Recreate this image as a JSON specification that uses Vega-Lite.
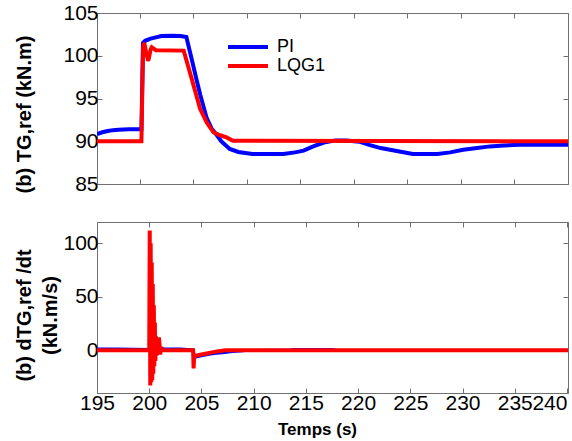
{
  "$schema": "https://vega.github.io/schema/vega-lite/v6.json",
  "padding": {"left": 13, "top": 1, "right": 4, "bottom": 2},
  "bounds": "flush",
  "spacing": 38,
  "background": "white",
  "config": {
    "font": "Liberation Sans",
    "view": {"stroke": "#707070", "strokeWidth": 1},
    "axis": {
      "domainColor": "#707070",
      "tickColor": "#707070",
      "labelColor": "#000000",
      "labelFont": "Liberation Sans",
      "labelFontSize": 21,
      "labelOverlap": false,
      "labelFlush": false,
      "tickSize": -5,
      "labelPadding": 4,
      "grid": false,
      "titleFont": "Liberation Sans",
      "titleFontWeight": "bold",
      "titleColor": "#000000"
    }
  },
  "datasets": {
    "top": [
      {"series": "PI", "t": 196, "v": 90.85},
      {"series": "PI", "t": 196.5, "v": 91.05},
      {"series": "PI", "t": 197, "v": 91.2},
      {"series": "PI", "t": 197.5, "v": 91.3},
      {"series": "PI", "t": 198, "v": 91.35},
      {"series": "PI", "t": 199, "v": 91.4},
      {"series": "PI", "t": 200.15, "v": 91.4},
      {"series": "PI", "t": 200.3, "v": 101.5},
      {"series": "PI", "t": 200.5, "v": 101.75},
      {"series": "PI", "t": 201, "v": 102.0},
      {"series": "PI", "t": 201.5, "v": 102.15},
      {"series": "PI", "t": 202, "v": 102.3},
      {"series": "PI", "t": 203, "v": 102.35},
      {"series": "PI", "t": 203.8, "v": 102.3},
      {"series": "PI", "t": 204.35, "v": 102.2},
      {"series": "PI", "t": 204.85, "v": 99.6},
      {"series": "PI", "t": 205.3, "v": 97.2},
      {"series": "PI", "t": 205.65, "v": 95.4},
      {"series": "PI", "t": 206.25, "v": 92.7},
      {"series": "PI", "t": 206.7, "v": 91.5},
      {"series": "PI", "t": 207.2, "v": 90.7},
      {"series": "PI", "t": 207.6, "v": 90.0},
      {"series": "PI", "t": 208.4, "v": 89.1},
      {"series": "PI", "t": 209.2, "v": 88.75},
      {"series": "PI", "t": 210.5, "v": 88.5},
      {"series": "PI", "t": 213.4, "v": 88.5},
      {"series": "PI", "t": 214.5, "v": 88.7},
      {"series": "PI", "t": 215.3, "v": 88.9},
      {"series": "PI", "t": 216.2, "v": 89.4},
      {"series": "PI", "t": 217.2, "v": 89.85},
      {"series": "PI", "t": 218.3, "v": 90.1},
      {"series": "PI", "t": 219.3, "v": 90.1},
      {"series": "PI", "t": 220.5, "v": 89.95},
      {"series": "PI", "t": 221.5, "v": 89.55},
      {"series": "PI", "t": 222.5, "v": 89.2},
      {"series": "PI", "t": 224, "v": 88.85},
      {"series": "PI", "t": 225.5, "v": 88.5},
      {"series": "PI", "t": 227.8, "v": 88.5},
      {"series": "PI", "t": 229, "v": 88.7},
      {"series": "PI", "t": 230.2, "v": 89.0},
      {"series": "PI", "t": 231.5, "v": 89.2},
      {"series": "PI", "t": 232.7, "v": 89.4},
      {"series": "PI", "t": 234, "v": 89.5},
      {"series": "PI", "t": 235.5, "v": 89.6},
      {"series": "PI", "t": 240, "v": 89.6},
      {"series": "LQG1", "t": 196, "v": 90},
      {"series": "LQG1", "t": 200.15, "v": 90},
      {"series": "LQG1", "t": 200.3, "v": 101.0},
      {"series": "LQG1", "t": 200.42, "v": 101.5},
      {"series": "LQG1", "t": 200.6, "v": 100.3},
      {"series": "LQG1", "t": 200.79, "v": 99.4},
      {"series": "LQG1", "t": 201.0, "v": 100.7},
      {"series": "LQG1", "t": 201.11, "v": 101.0},
      {"series": "LQG1", "t": 201.5, "v": 100.65},
      {"series": "LQG1", "t": 204.1, "v": 100.6},
      {"series": "LQG1", "t": 204.85, "v": 97.3},
      {"series": "LQG1", "t": 205.63, "v": 93.8},
      {"series": "LQG1", "t": 206.25, "v": 92.2},
      {"series": "LQG1", "t": 206.87, "v": 91.05},
      {"series": "LQG1", "t": 207.5, "v": 90.7},
      {"series": "LQG1", "t": 208.1, "v": 90.45},
      {"series": "LQG1", "t": 208.7, "v": 90.05},
      {"series": "LQG1", "t": 240, "v": 90}
    ],
    "bottom": [
      {"series": "PI", "t": 195, "v": 1.5},
      {"series": "PI", "t": 197, "v": 1.5},
      {"series": "PI", "t": 199.95, "v": 1.0},
      {"series": "PI", "t": 200.05, "v": 0},
      {"series": "PI", "t": 200.1, "v": 50},
      {"series": "PI", "t": 200.17, "v": -8},
      {"series": "PI", "t": 200.25, "v": 20},
      {"series": "PI", "t": 200.35, "v": -3},
      {"series": "PI", "t": 200.55, "v": -2},
      {"series": "PI", "t": 200.85, "v": -3},
      {"series": "PI", "t": 201.05, "v": 2},
      {"series": "PI", "t": 201.5, "v": 1.5},
      {"series": "PI", "t": 203, "v": 1.5},
      {"series": "PI", "t": 204.25, "v": 0.5},
      {"series": "PI", "t": 204.35, "v": -6},
      {"series": "PI", "t": 204.5, "v": -6.5},
      {"series": "PI", "t": 205, "v": -5.5},
      {"series": "PI", "t": 205.6, "v": -4.3},
      {"series": "PI", "t": 206.2, "v": -3.3},
      {"series": "PI", "t": 207, "v": -2.5},
      {"series": "PI", "t": 208, "v": -1.5},
      {"series": "PI", "t": 209, "v": -0.8},
      {"series": "PI", "t": 209.5, "v": 0},
      {"series": "PI", "t": 213.5, "v": 0.5},
      {"series": "PI", "t": 214, "v": 1},
      {"series": "PI", "t": 217.5, "v": 1},
      {"series": "PI", "t": 218, "v": 0},
      {"series": "PI", "t": 240.1, "v": 0},
      {"series": "LQG1", "t": 195, "v": 0},
      {"series": "LQG1", "t": 200.0, "v": 0},
      {"series": "LQG1", "t": 200.05, "v": 112},
      {"series": "LQG1", "t": 200.1, "v": -33},
      {"series": "LQG1", "t": 200.14, "v": 100},
      {"series": "LQG1", "t": 200.19, "v": -30},
      {"series": "LQG1", "t": 200.24, "v": 82},
      {"series": "LQG1", "t": 200.29, "v": -28},
      {"series": "LQG1", "t": 200.34, "v": 62},
      {"series": "LQG1", "t": 200.39, "v": -22},
      {"series": "LQG1", "t": 200.44, "v": 42},
      {"series": "LQG1", "t": 200.49, "v": -15},
      {"series": "LQG1", "t": 200.54, "v": 26},
      {"series": "LQG1", "t": 200.59, "v": -10},
      {"series": "LQG1", "t": 200.64, "v": 13},
      {"series": "LQG1", "t": 200.69, "v": -5},
      {"series": "LQG1", "t": 200.74, "v": 5},
      {"series": "LQG1", "t": 200.79, "v": 0},
      {"series": "LQG1", "t": 200.88, "v": 8},
      {"series": "LQG1", "t": 200.93, "v": 12},
      {"series": "LQG1", "t": 201.0, "v": 4},
      {"series": "LQG1", "t": 201.05, "v": -4},
      {"series": "LQG1", "t": 201.13, "v": 3},
      {"series": "LQG1", "t": 201.23, "v": 0},
      {"series": "LQG1", "t": 204.2, "v": 0},
      {"series": "LQG1", "t": 204.25, "v": -17},
      {"series": "LQG1", "t": 204.3, "v": -6},
      {"series": "LQG1", "t": 204.5, "v": -5},
      {"series": "LQG1", "t": 205, "v": -4},
      {"series": "LQG1", "t": 205.5, "v": -3},
      {"series": "LQG1", "t": 206, "v": -2},
      {"series": "LQG1", "t": 206.5, "v": -1.2},
      {"series": "LQG1", "t": 207.3, "v": 0},
      {"series": "LQG1", "t": 240.1, "v": 0}
    ]
  },
  "vconcat": [
    {
      "width": 471,
      "height": 171,
      "data": {"name": "top"},
      "layer": [
        {
          "transform": [{"filter": "datum.series === 'PI'"}],
          "mark": {"type": "line", "strokeWidth": 4, "clip": true},
          "encoding": {
            "x": {"field": "t", "type": "quantitative", "scale": {"domain": [196, 240], "nice": false, "zero": false},
                  "axis": {"orient": "bottom", "values": [200, 205, 210, 215, 220, 225, 230, 235, 240], "labels": false, "title": null, "domain": false}},
            "y": {"field": "v", "type": "quantitative", "scale": {"domain": [85, 105], "nice": false, "zero": false},
                  "axis": {"orient": "left", "values": [85, 90, 95, 100, 105], "title": "(b) TG,ref (kN.m)", "titleFontSize": 20, "titleX": -63, "titleY": 101, "domain": false}},
            "color": {"field": "series", "type": "nominal",
                      "scale": {"domain": ["PI", "LQG1"], "range": ["#0000ff", "#ff0000"]},
                      "legend": {"title": null, "orient": "none", "legendX": 129, "legendY": 25,
                                 "symbolType": "stroke", "symbolSize": 1600, "symbolStrokeWidth": 4,
                                 "clipHeight": 18, "rowPadding": 1,
                                 "labelFontSize": 18, "labelFont": "Liberation Sans", "labelColor": "#000000",
                                 "labelOffset": 7}}
          }
        },
        {
          "transform": [{"filter": "datum.series === 'LQG1'"}],
          "mark": {"type": "line", "strokeWidth": 4, "clip": true},
          "encoding": {
            "x": {"field": "t", "type": "quantitative", "axis": null},
            "y": {"field": "v", "type": "quantitative", "axis": null},
            "color": {"field": "series", "type": "nominal"}
          }
        },
        {
          "mark": {"type": "line", "opacity": 0},
          "encoding": {
            "x": {"field": "t", "type": "quantitative",
                  "axis": {"orient": "top", "values": [200, 205, 210, 215, 220, 225, 230, 235, 240], "labels": false, "title": null, "domain": false}},
            "y": {"field": "v", "type": "quantitative",
                  "axis": {"orient": "right", "values": [85, 90, 95, 100, 105], "labels": false, "title": null, "domain": false}}
          }
        }
      ],
      "resolve": {"axis": {"x": "independent", "y": "independent"}}
    },
    {
      "width": 471,
      "height": 171,
      "data": {"name": "bottom"},
      "layer": [
        {
          "transform": [{"filter": "datum.series === 'PI'"}],
          "mark": {"type": "line", "strokeWidth": 2.5, "color": "#0000ff", "clip": true},
          "encoding": {
            "x": {"field": "t", "type": "quantitative", "scale": {"domain": [195, 240.1], "nice": false, "zero": false},
                  "axis": {"orient": "bottom", "values": [195, 200, 205, 210, 215, 220, 225, 230, 235, 240],
                           "labelAlign": {"condition": {"test": "datum.value >= 240", "value": "right"}, "value": "center"},
                           "title": "Temps (s)", "titleFontSize": 17, "titlePadding": 8, "titleX": 220, "domain": false}},
            "y": {"field": "v", "type": "quantitative", "scale": {"domain": [-40, 120], "nice": false, "zero": false},
                  "axis": {"orient": "left", "values": [0, 50, 100], "title": ["(b) dTG,ref /dt", "(kN.m/s)"], "titleFontSize": 20, "titleLineHeight": 26, "titleX": -63, "titleY": 93, "domain": false}}
          }
        },
        {
          "transform": [{"filter": "datum.series === 'LQG1'"}],
          "mark": {"type": "line", "strokeWidth": 4, "color": "#ff0000", "clip": true},
          "encoding": {
            "x": {"field": "t", "type": "quantitative", "axis": null},
            "y": {"field": "v", "type": "quantitative", "axis": null}
          }
        },
        {
          "mark": {"type": "line", "opacity": 0},
          "encoding": {
            "x": {"field": "t", "type": "quantitative",
                  "axis": {"orient": "top", "values": [195, 200, 205, 210, 215, 220, 225, 230, 235, 240], "labels": false, "title": null, "domain": false}},
            "y": {"field": "v", "type": "quantitative",
                  "axis": {"orient": "right", "values": [0, 50, 100], "labels": false, "title": null, "domain": false}}
          }
        }
      ],
      "resolve": {"axis": {"x": "independent", "y": "independent"}}
    }
  ]
}
